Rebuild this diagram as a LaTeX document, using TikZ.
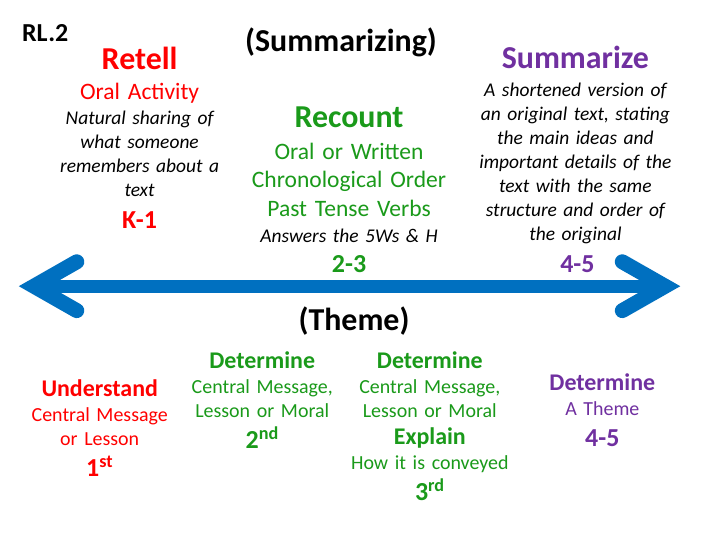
\documentclass[tikz,border=0pt]{standalone}
\usepackage{fontspec}
\setmainfont{Carlito}
\usepackage{xcolor}
\usetikzlibrary{calc}
\definecolor{rlred}{HTML}{FF0000}
\definecolor{rlgreen}{HTML}{1A9A1A}
\definecolor{rlpurple}{HTML}{7030A0}
\definecolor{rlblue}{HTML}{0070C0}

\begin{document}
\begin{tikzpicture}[x=1pt,y=-1pt,
  every node/.style={inner sep=0pt,anchor=base},
  title/.style={font=\bfseries\fontsize{32}{38}\selectfont},
  head/.style={font=\bfseries\fontsize{32}{38}\selectfont},
  sub/.style={font=\fontsize{23.6}{28.4}\selectfont,text width=240pt,align=center},
  note/.style={font=\itshape\fontsize{19.5}{24}\selectfont,text width=220pt,align=center},
  grade/.style={font=\bfseries\fontsize{26}{31}\selectfont},
  det/.style={font=\bfseries\fontsize{24}{29}\selectfont},
  body/.style={font=\fontsize{20}{24}\selectfont,text width=200pt,align=center},
  shaft/.style={rlblue,line width=13pt},
  barb/.style={rlblue,line width=15pt,line cap=round,miter limit=10}
]
\path[fill=white] (0,0) rectangle (720,540);

% headings
\node[anchor=base west,font=\bfseries\fontsize{26}{31}\selectfont] (rl) at (20,41.5) {RL.2};
\node[title] (summing) at (340,52) {(Summarizing)};
\node[title] (theme) at (353,331) {(Theme)};

% retell
\node[head,rlred] (retell) at (138,70) {Retell};
\node[sub,rlred] (retellsub) at (138,100) {Oral Activity};
\node[note] (retellnote) at (138,125) {Natural sharing of\\what someone\\remembers about a\\text};
\node[grade,rlred] (retellgr) at (138,229) {K-1};

% recount
\node[head,rlgreen] (recount) at (348,128.3) {Recount};
\node[sub,rlgreen] (recountsub) at (348,160) {Oral or Written\\Chronological Order\\Past Tense Verbs};
\node[note] (recountnote) at (348,243.3) {Answers the 5Ws \& H};
\node[grade,rlgreen] (recountgr) at (348,273.3) {2-3};

% summarize
\node[head,rlpurple] (summ) at (575,68.3) {Summarize};
\node[note] (summnote) at (575,96.7) {A shortened version of\\an original text, stating\\the main ideas and\\important details of the\\text with the same\\structure and order of\\the original};
\node[grade,rlpurple] (summgr) at (577,273) {4-5};

% the arrow
\coordinate (ltip) at (18,287);
\coordinate (rtip) at (679,287);
\draw[shaft,shorten <=20pt,shorten >=20pt] (ltip) -- (rtip);
\draw[barb] ($(ltip)+(57,-24.5)$) -- ($(ltip)+(14,0)$) -- ($(ltip)+(57,24.5)$);
\draw[barb] ($(rtip)+(-57,-24.5)$) -- ($(rtip)+(-14,0)$) -- ($(rtip)+(-57,24.5)$);

% theme, by grade
\node[det,rlred] (und) at (98,397.7) {Understand};
\node[body,rlred] (undsub) at (98,423) {Central Message\\or Lesson};
\node[grade,rlred] (undgr) at (98,477.7) {1\textsuperscript{st}};

\node[det,rlgreen] (dettwo) at (261,369.3) {Determine};
\node[body,rlgreen] (dettwosub) at (261,395) {Central Message,\\Lesson or Moral};
\node[grade,rlgreen] (dettwogr) at (261,450) {2\textsuperscript{nd}};

\node[det,rlgreen] (detthree) at (429,369.3) {Determine};
\node[body,rlgreen] (detthreesub) at (429,395) {Central Message,\\Lesson or Moral};
\node[det,rlgreen] (expl) at (429,446) {Explain};
\node[body,rlgreen] (explsub) at (429,471) {How it is conveyed};
\node[grade,rlgreen] (detthreegr) at (429,501.7) {3\textsuperscript{rd}};

\node[det,rlpurple] (detfour) at (602,391.7) {Determine};
\node[body,rlpurple] (detfoursub) at (602,416.7) {A Theme};
\node[grade,rlpurple] (detfourgr) at (602,448) {4-5};
\end{tikzpicture}
\end{document}
